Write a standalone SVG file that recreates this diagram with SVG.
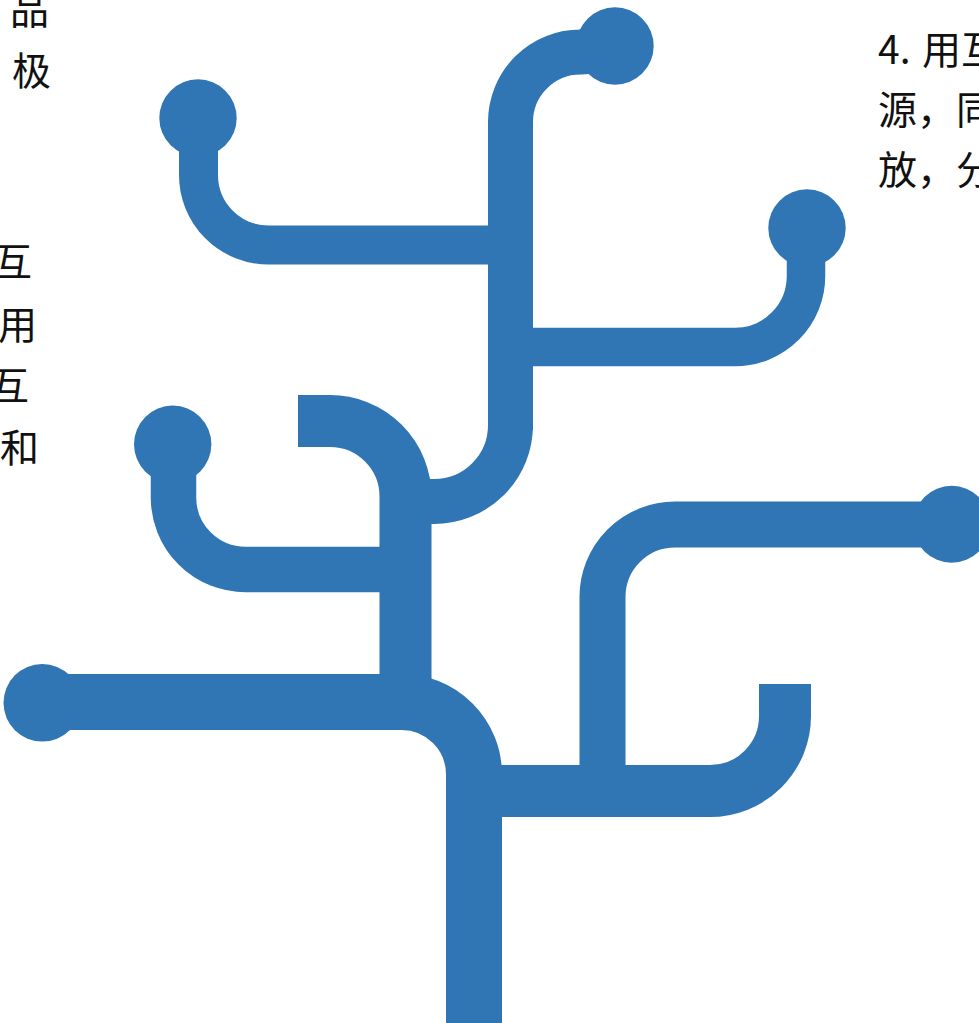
<svg xmlns="http://www.w3.org/2000/svg" width="979" height="1023" viewBox="0 0 979 1023">
<style>
.br{fill:none;stroke:#3075b4;stroke-linecap:butt;stroke-linejoin:round}
.dot{fill:#3075b4}
.t{font-family:"Noto Sans CJK SC","Noto Sans",sans-serif;font-size:39px;fill:#111}
</style>
<rect width="979" height="1023" fill="#ffffff"/>
<g id="connectors">
  <g id="trunk-upper">
    <path class="br" stroke-width="45" d="M510.5,430 V122 A70,70 0 0 1 580.5,52 L605,50"/>
    <path class="br" stroke-width="45" d="M510.5,300 V425 A76.5,76.5 0 0 1 434,501.5 H420"/>
  </g>
  <g id="branch-left-upper">
    <path class="br" stroke-width="39" d="M198.5,118 V175 A70,70 0 0 0 268.5,245 H500"/>
  </g>
  <g id="branch-right-upper">
    <path class="br" stroke-width="38.5" d="M520,347 H735 A71,71 0 0 0 806,276 V228"/>
  </g>
  <g id="trunk-middle">
    <path class="br" stroke-width="52" d="M298,421 H330 A75.5,75.5 0 0 1 405.5,496.5 V690"/>
  </g>
  <g id="branch-left-middle">
    <path class="br" stroke-width="45.5" d="M173.5,444 V497.5 A72,72 0 0 0 245.5,569.5 H390"/>
  </g>
  <g id="trunk-lower">
    <path class="br" stroke-width="56" d="M42,702 H401.5 A72.5,72.5 0 0 1 474,774.5 V1030"/>
  </g>
  <g id="branch-right-lower">
    <path class="br" stroke-width="52" d="M490,791 H710 A75,75 0 0 0 785,716 V684"/>
  </g>
  <g id="branch-right-middle">
    <path class="br" stroke-width="46" d="M602.5,780 V597 A72.5,72.5 0 0 1 675,524.5 H952"/>
  </g>
</g>
<g id="node-top"><circle class="dot" cx="615" cy="46" r="38.7"/></g>
<g id="node-left-upper"><circle class="dot" cx="198" cy="118" r="38.7"/></g>
<g id="node-right-upper"><circle class="dot" cx="807" cy="228" r="38.7"/></g>
<g id="node-left-middle"><circle class="dot" cx="172.7" cy="444.3" r="38.7"/></g>
<g id="node-left-lower"><circle class="dot" cx="42.3" cy="702.8" r="38.8"/></g>
<g id="node-right-middle"><circle class="dot" cx="951.7" cy="524.3" r="38.5"/></g>
<g id="text-left">
  <text class="t" x="49" y="24" text-anchor="end">品</text>
  <text class="t" x="51" y="85" text-anchor="end">极</text>
  <text class="t" x="32" y="276" text-anchor="end">互</text>
  <text class="t" x="37" y="339" text-anchor="end">用</text>
  <text class="t" x="29" y="400" text-anchor="end">互</text>
  <text class="t" x="39" y="462" text-anchor="end">和</text>
</g>
<g id="text-right">
  <text class="t" x="878" y="64">4.<tspan x="922">用互</tspan></text>
  <text class="t" x="878" y="124">源，同</text>
  <text class="t" x="878" y="184">放，分</text>
</g>
</svg>
